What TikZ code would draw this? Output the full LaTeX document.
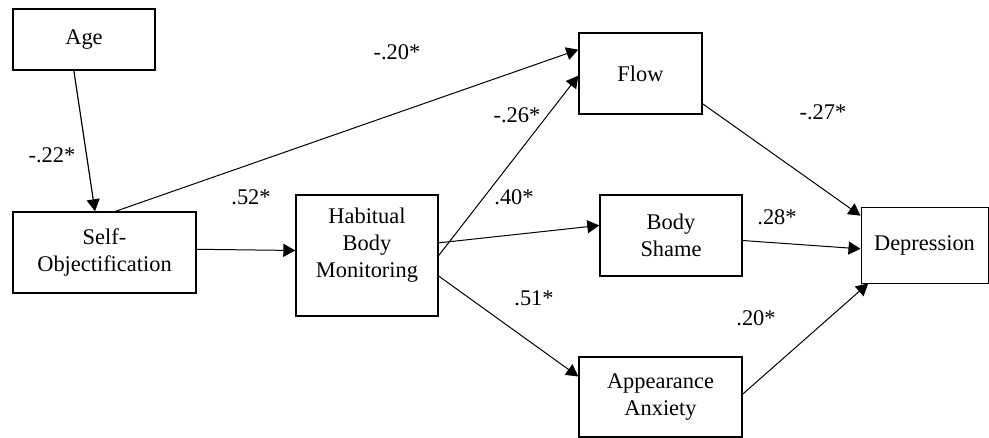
\documentclass[tikz,border=0pt]{standalone}
\usepackage{fontspec}
\setmainfont{Liberation Serif}
\usetikzlibrary{arrows.meta, positioning}

\begin{document}
\begin{tikzpicture}[
  x=0.5pt, y=-0.5pt,
  every node/.style = {font=\fontsize{11.2}{13.5}\selectfont},
  box/.style = {draw, line width=0.7pt, align=center, inner sep=0pt},
  link/.style = {line width=0.5pt, -{Triangle[length=6pt, width=6.5pt]}}
]
  \useasboundingbox (0,0) rectangle (989,438);

  % Variables
  \node[box, minimum width=71pt, minimum height=30.5pt] (age) at (84,39.5) {Age};
  \node[box, minimum width=91.5pt, minimum height=40.5pt] (self) at (104.5,252.5) {Self-\\Objectification};
  \node[box, minimum width=71pt, minimum height=60.5pt] (hbm) at (367,255.5)
    {\raisebox{5pt}[\height][\depth]{\begin{tabular}{@{}c@{}}Habitual\\Body\\Monitoring\end{tabular}}};
  \node[box, minimum width=61.5pt, minimum height=40.5pt] (flow) at (640.5,73.5) {Flow};
  \node[box, minimum width=71pt, minimum height=40.5pt] (shame) at (671,235.5) {Body\\Shame};
  \node[box, minimum width=81.5pt, minimum height=40pt] (anx) at (660.5,397) {Appearance\\Anxiety};
  \node[box, line width=0.5pt, minimum width=63.5pt, minimum height=37.5pt] (dep) at (924.5,245.5) {Depression};

  % Paths
  \draw[link, line width=0.6pt] (age.-108) -- (self.103);
  \draw[link] (self.75.5) -- (flow.159);
  \draw[link] (self.2.8) -- (hbm.176.4);
  \draw[link] (hbm.0.4) -- (flow.-178.6);
  \draw[link] (hbm.10.8) -- (shame.172.4);
  \draw[link] (hbm.-16.8) -- (anx.166.9);
  \draw[link] (flow.-26.4) -- (dep.155.8);
  \draw[link] (shame.-4.4) -- (dep.-177.7);
  \draw[link] (anx.2.1) -- (dep.-146.4);

  % Coefficients
  \node (cAge)   at (52,155)  {-.22*};
  \node (cFlow)  at (397,52)  {-.20*};
  \node (cHbm)   at (251,197) {.52*};
  \node (cHF)    at (517,115) {-.26*};
  \node (cHS)    at (514,197) {.40*};
  \node (cHA)    at (534,298) {.51*};
  \node (cFD)    at (823,112) {-.27*};
  \node (cSD)    at (777,217) {.28*};
  \node (cAD)    at (756,318) {.20*};
\end{tikzpicture}
\end{document}
